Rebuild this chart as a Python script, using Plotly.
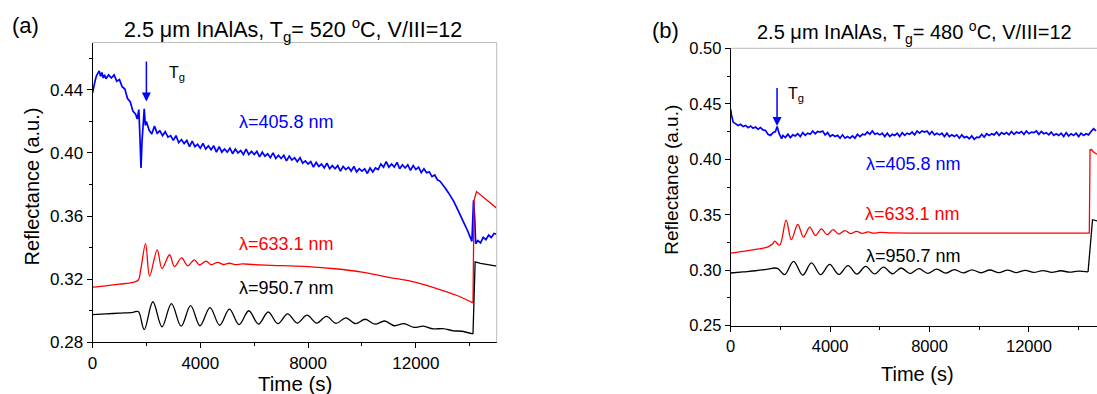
import plotly.graph_objects as go

FONT = "Arial, 'Liberation Sans', sans-serif"
BLUE, RED, BLACK = "#0000ff", "#ff0000", "#000000"

# ---------------- Panel (a) data: Tg = 520 C ----------------
blue_a_t = [0, 50, 100, 150, 200, 250, 300, 350, 400, 450, 500, 600, 700, 800, 900, 1000,
            1100, 1200, 1300, 1400, 1500, 1600, 1660, 1720, 1760, 1800, 1840, 1880, 1920, 1960,
            2000, 2100, 2200, 2300, 2400, 2500, 2600, 2700, 2800, 2900, 3000, 3100, 3200, 3300,
            3400, 3500, 3600, 3700, 3800, 3900, 4000, 4100, 4200, 4300, 4400, 4500, 4600, 4700,
            4800, 4900, 5000, 5100, 5200, 5300, 5400, 5500, 5600, 5700, 5800, 5900, 6000, 6100,
            6200, 6300, 6400, 6500, 6600, 6700, 6800, 6900, 7000, 7100, 7200, 7300, 7400, 7500,
            7600, 7700, 7800, 7900, 8000, 8100, 8200, 8300, 8400, 8500, 8600, 8700, 8800, 8900,
            9000, 9100, 9200, 9300, 9400, 9500, 9600, 9700, 9800, 9900, 10000, 10100, 10200,
            10300, 10400, 10500, 10600, 10700, 10800, 10900, 11000, 11100, 11200, 11300, 11400,
            11500, 11600, 11700, 11800, 11900, 12000, 12100, 12200, 12300, 12400, 12500, 12600,
            12700, 12800, 12900, 13000, 13100, 13200, 13300, 13400, 13500, 13600, 13700, 13800,
            13900, 14000, 14080, 14140, 14180, 14220, 14300, 14400, 14500, 14600, 14700, 14800,
            14900, 15000]
blue_a_v = [0.4380, 0.4430, 0.4460, 0.4490, 0.4505, 0.4520, 0.4485, 0.4510, 0.4475, 0.4495,
            0.4470, 0.4495, 0.4475, 0.4495, 0.4455, 0.4465, 0.4420, 0.4405, 0.4345, 0.4325,
            0.4265, 0.4245, 0.4215, 0.4275, 0.4100, 0.3905, 0.4080, 0.4180, 0.4280, 0.4175,
            0.4200, 0.4145, 0.4120, 0.4170, 0.4125, 0.4140, 0.4110, 0.4135, 0.4100, 0.4110,
            0.4080, 0.4110, 0.4065, 0.4085, 0.4060, 0.4080, 0.4040, 0.4075, 0.4040, 0.4055,
            0.4030, 0.4060, 0.4025, 0.4045, 0.4020, 0.4045, 0.4005, 0.4040, 0.4005, 0.4025,
            0.4005, 0.4030, 0.3995, 0.4025, 0.4000, 0.4015, 0.3990, 0.4025, 0.3990, 0.4010,
            0.3990, 0.4010, 0.3975, 0.4005, 0.3980, 0.3995, 0.3970, 0.4000, 0.3965, 0.3985,
            0.3965, 0.3985, 0.3950, 0.3980, 0.3955, 0.3970, 0.3945, 0.3970, 0.3935, 0.3950,
            0.3930, 0.3945, 0.3910, 0.3940, 0.3915, 0.3930, 0.3905, 0.3935, 0.3900, 0.3920,
            0.3900, 0.3920, 0.3885, 0.3915, 0.3895, 0.3910, 0.3885, 0.3915, 0.3880, 0.3900,
            0.3885, 0.3900, 0.3870, 0.3905, 0.3880, 0.3905, 0.3895, 0.3930, 0.3910, 0.3945,
            0.3910, 0.3930, 0.3910, 0.3940, 0.3900, 0.3925, 0.3905, 0.3925, 0.3890, 0.3920,
            0.3895, 0.3910, 0.3875, 0.3900, 0.3875, 0.3880, 0.3850, 0.3860, 0.3830, 0.3820,
            0.3800, 0.3775, 0.3750, 0.3725, 0.3695, 0.3660, 0.3620, 0.3590, 0.3550, 0.3515,
            0.3475, 0.3440, 0.3700, 0.3600, 0.3425, 0.3445, 0.3430, 0.3465, 0.3450, 0.3480,
            0.3465, 0.3490, 0.3485]

red_a_t = [0, 500, 1000, 1500, 1700, 1790, 1970, 2120, 2400, 2580, 2860, 3040, 3310, 3530,
           3780, 3970, 4220, 4400, 4650, 4850, 5080, 5300, 5550, 6000, 7000, 8000, 9000,
           10000, 11000, 12000, 13000, 13600, 14120]
red_a_v = [0.3150, 0.3158, 0.3168, 0.3180, 0.3195, 0.3260, 0.3425, 0.3220, 0.3385, 0.3268,
           0.3355, 0.3280, 0.3335, 0.3285, 0.3322, 0.3290, 0.3315, 0.3292, 0.3307, 0.3293,
           0.3301, 0.3292, 0.3297, 0.3292, 0.3286, 0.3280, 0.3266, 0.3245, 0.3212, 0.3180,
           0.3128, 0.3092, 0.3050]
red_a_jump_t = [14120, 14160, 14250, 15000]
red_a_jump_v = [0.3050, 0.3700, 0.3755, 0.3650]

black_a_t = [0, 500, 1000, 1500, 1700, 1920, 2240, 2580, 2930, 3290, 3640, 3990, 4360, 4720,
             5080, 5440, 5800, 6160, 6520, 6880, 7240, 7600, 7960, 8320, 8680, 9040, 9400,
             9760, 10120, 10480, 10840, 11200, 11560, 11920, 12280, 12640, 13000, 13400,
             13700, 14120]
black_a_v = [0.2975, 0.2980, 0.2985, 0.2990, 0.2995, 0.2880, 0.3057, 0.2898, 0.3045, 0.2902,
             0.3032, 0.2905, 0.3020, 0.2908, 0.3010, 0.2912, 0.3000, 0.2915, 0.2992, 0.2918,
             0.2980, 0.2922, 0.2972, 0.2922, 0.2964, 0.2920, 0.2955, 0.2918, 0.2946, 0.2915,
             0.2935, 0.2905, 0.2918, 0.2895, 0.2902, 0.2885, 0.2887, 0.2873, 0.2870, 0.2853]
black_a_jump_t = [14120, 14200, 14400, 15000]
black_a_jump_v = [0.2853, 0.3310, 0.3300, 0.3283]

# ---------------- Panel (b) data: Tg = 480 C ----------------
blue_b_t = [0, 30, 100, 200, 300, 400, 500, 600, 700, 800, 900, 1000, 1100, 1200, 1300, 1400,
            1500, 1600, 1700, 1800, 1870, 1950, 2050, 2100, 2200, 2300, 2400, 2500, 2600, 2700,
            2800, 2900, 3000, 3100, 3200, 3300, 3400, 3500, 3600, 3700, 3800, 3900, 4000, 4100,
            4200, 4300, 4400, 4500, 4600, 4700, 4800, 4900, 5000, 5100, 5200, 5300, 5400, 5500,
            5600, 5700, 5800, 5900, 6000, 6100, 6200, 6300, 6400, 6500, 6600, 6700, 6800, 6900,
            7000, 7100, 7200, 7300, 7400, 7500, 7600, 7700, 7800, 7900, 8000, 8100, 8200, 8300,
            8400, 8500, 8600, 8700, 8800, 8900, 9000, 9100, 9200, 9300, 9400, 9500, 9600, 9700,
            9800, 9900, 10000, 10100, 10200, 10300, 10400, 10500, 10600, 10700, 10800, 10900,
            11000, 11100, 11200, 11300, 11400, 11500, 11600, 11700, 11800, 11900, 12000, 12100,
            12200, 12300, 12400, 12500, 12600, 12700, 12800, 12900, 13000, 13100, 13200, 13300,
            13400, 13500, 13600, 13700, 13800, 13900, 14000, 14100, 14200, 14300, 14400, 14500,
            14600, 14700]
blue_b_v = [0.4450, 0.4400, 0.4335, 0.4320, 0.4305, 0.4315, 0.4295, 0.4305, 0.4285, 0.4300,
            0.4280, 0.4290, 0.4270, 0.4285, 0.4265, 0.4260, 0.4225, 0.4215, 0.4240, 0.4250,
            0.4295, 0.4230, 0.4185, 0.4215, 0.4195, 0.4225, 0.4195, 0.4220, 0.4210, 0.4230,
            0.4205, 0.4240, 0.4215, 0.4235, 0.4225, 0.4255, 0.4230, 0.4250, 0.4245, 0.4255,
            0.4220, 0.4240, 0.4205, 0.4220, 0.4205, 0.4215, 0.4190, 0.4220, 0.4190, 0.4205,
            0.4190, 0.4210, 0.4190, 0.4225, 0.4205, 0.4225, 0.4220, 0.4245, 0.4225, 0.4255,
            0.4225, 0.4235, 0.4220, 0.4235, 0.4205, 0.4235, 0.4205, 0.4225, 0.4215, 0.4235,
            0.4205, 0.4240, 0.4215, 0.4235, 0.4225, 0.4245, 0.4220, 0.4255, 0.4235, 0.4255,
            0.4245, 0.4255, 0.4225, 0.4250, 0.4220, 0.4235, 0.4220, 0.4235, 0.4205, 0.4235,
            0.4205, 0.4220, 0.4205, 0.4220, 0.4190, 0.4220, 0.4195, 0.4205, 0.4185, 0.4210,
            0.4180, 0.4200, 0.4195, 0.4225, 0.4200, 0.4230, 0.4215, 0.4230, 0.4220, 0.4245,
            0.4215, 0.4240, 0.4225, 0.4240, 0.4220, 0.4250, 0.4225, 0.4245, 0.4235, 0.4250,
            0.4225, 0.4255, 0.4230, 0.4245, 0.4240, 0.4255, 0.4225, 0.4250, 0.4230, 0.4240,
            0.4220, 0.4245, 0.4215, 0.4230, 0.4215, 0.4235, 0.4205, 0.4240, 0.4210, 0.4230,
            0.4215, 0.4235, 0.4205, 0.4235, 0.4215, 0.4230, 0.4220, 0.4250, 0.4275, 0.4255]

red_b_t = [0, 500, 1000, 1500, 1700, 1770, 1970, 2230, 2440, 2700, 2930, 3180, 3410, 3650,
           3880, 4120, 4350, 4590, 4820, 5060, 5290, 5530, 5760, 6000, 6500, 8000, 10000,
           12000, 14000, 14430]
red_b_v = [0.3155, 0.3170, 0.3188, 0.3210, 0.3240, 0.3262, 0.3226, 0.3452, 0.3275, 0.3412,
           0.3298, 0.3388, 0.3312, 0.3373, 0.3320, 0.3365, 0.3326, 0.3357, 0.3330, 0.3350,
           0.3332, 0.3345, 0.3334, 0.3341, 0.3336, 0.3335, 0.3334, 0.3334, 0.3334, 0.3334]
red_b_jump_t = [14430, 14460, 14520, 14600, 14740]
red_b_jump_v = [0.3334, 0.4085, 0.4088, 0.4065, 0.4045]

black_b_t = [0, 500, 1000, 1500, 1750, 1900, 2170, 2530, 2900, 3250, 3620, 3980, 4350, 4720,
             5080, 5430, 5790, 6150, 6510, 6860, 7220, 7570, 7930, 8290, 8650, 9000, 9360,
             9710, 10070, 10430, 10790, 11140, 11500, 11850, 12200, 12560, 12920, 13280,
             13640, 13990, 14380]
black_b_v = [0.2975, 0.2985, 0.2995, 0.3010, 0.3020, 0.3015, 0.2960, 0.3080, 0.2955, 0.3066,
             0.2960, 0.3052, 0.2962, 0.3042, 0.2965, 0.3035, 0.2967, 0.3027, 0.2968, 0.3020,
             0.2970, 0.3014, 0.2972, 0.3010, 0.2974, 0.3006, 0.2976, 0.3004, 0.2977, 0.3002,
             0.2978, 0.3001, 0.2979, 0.2999, 0.2980, 0.2997, 0.2981, 0.2995, 0.2982, 0.2992,
             0.2985]
black_b_jump_t = [14380, 14560, 14740]
black_b_jump_v = [0.2985, 0.3455, 0.3445]

# labels
title_a = "2.5 μm InAlAs, T<sub>g</sub>= 520 <sup>o</sup>C, V/III=12"
title_b = "2.5 μm InAlAs, T<sub>g</sub>= 480 <sup>o</sup>C, V/III=12"
wl_labels = ["λ=405.8 nm", "λ=633.1 nm", "λ=950.7 nm"]
wl_colors = [BLUE, RED, BLACK]
label_a_xy = [(7200, 0.4198), (7200, 0.3423), (7200, 0.3144)]
label_b_xy = [(7340, 0.3954), (7300, 0.3503), (7340, 0.3132)]
tg_a = (2000, 0.4326, 0.4589)   # time, arrow tip, arrow tail
tg_b = (1865, 0.4300, 0.4656)

W, H = 1097, 394
fig = go.Figure()


def add(xs, ys, color, xa, ya, shape="linear", width=1.3):
    fig.add_trace(go.Scatter(x=xs, y=ys, mode="lines", xaxis=xa, yaxis=ya,
                             line=dict(color=color, width=width, shape=shape),
                             showlegend=False, hoverinfo="skip"))


add(blue_a_t, blue_a_v, BLUE, "x", "y", width=1.7)
add(red_a_t, red_a_v, RED, "x", "y", shape="spline")
add(red_a_jump_t, red_a_jump_v, RED, "x", "y")
add(black_a_t, black_a_v, BLACK, "x", "y", shape="spline")
add(black_a_jump_t, black_a_jump_v, BLACK, "x", "y")

add(blue_b_t, blue_b_v, BLUE, "x2", "y2", width=1.7)
add(red_b_t, red_b_v, RED, "x2", "y2", shape="spline")
add(red_b_jump_t, red_b_jump_v, RED, "x2", "y2")
add(black_b_t, black_b_v, BLACK, "x2", "y2", shape="spline")
add(black_b_jump_t, black_b_jump_v, BLACK, "x2", "y2")


def xaxis(domain, rng, size, anchor):
    return dict(domain=domain, range=rng, showgrid=False, zeroline=False, showline=True,
                linecolor="black", linewidth=1, ticks="outside", ticklen=5, tickwidth=1,
                tickcolor="black", tick0=0, dtick=4000, tickformat="d", automargin=False,
                tickfont=dict(family=FONT, size=size, color="black"),
                minor=dict(ticks="outside", ticklen=3, dtick=2000, tick0=0, tickcolor="black"),
                anchor=anchor, fixedrange=True)


def yaxis(domain, rng, dt, size, anchor):
    return dict(domain=domain, range=rng, showgrid=False, zeroline=False, showline=True,
                linecolor="black", linewidth=1, ticks="outside", ticklen=5, tickwidth=1,
                tickcolor="black", tick0=rng[0], dtick=dt, tickformat=".2f", automargin=False,
                tickfont=dict(family=FONT, size=size, color="black"),
                minor=dict(ticks="outside", ticklen=3, dtick=dt / 2, tick0=rng[0],
                           tickcolor="black"),
                anchor=anchor, fixedrange=True)


fig.update_layout(
    template="none",
    width=W, height=H, margin=dict(l=0, r=0, t=0, b=0, pad=0), autosize=False,
    paper_bgcolor="white", plot_bgcolor="white",
    xaxis=xaxis([92.5 / W, 496.7 / W], [0, 15000], 17, "y"),
    yaxis=yaxis([1 - 342.3 / H, 1 - 42.5 / H], [0.28, 0.47], 0.04, 17, "x"),
    xaxis2=xaxis([730.7 / W, 1.0], [0, 14740], 16.5, "y2"),
    yaxis2=yaxis([1 - 325.7 / H, 1 - 48.3 / H], [0.25, 0.50], 0.05, 16.5, "x2"),
    font=dict(family=FONT, color="black"),
    showlegend=False,
)

# light grey frame (top / right)
GREY = "#bdbdbd"
fig.add_shape(type="line", xref="x domain", yref="y domain", x0=0, x1=1, y0=1, y1=1,
              line=dict(color=GREY, width=1))
fig.add_shape(type="line", xref="x domain", yref="y domain", x0=1, x1=1, y0=0, y1=1,
              line=dict(color=GREY, width=1))
fig.add_shape(type="line", xref="x2 domain", yref="y2 domain", x0=0, x1=1, y0=1, y1=1,
              line=dict(color=GREY, width=1))

ann = []


def paper_text(text, px, py, size, angle=0):
    ann.append(dict(text=text, x=px / W, y=1 - py / H, xref="paper", yref="paper",
                    xanchor="center", yanchor="middle", showarrow=False, textangle=angle,
                    font=dict(family=FONT, size=size, color="black")))


paper_text("(a)", 25.5, 25.5, 22)
paper_text("(b)", 665, 30, 22)
paper_text(title_a, 292.6, 29, 21.5)
paper_text(title_b, 914, 32.5, 20)
paper_text("Reflectance (a.u.)", 31.7, 186.7, 20, -90)
paper_text("Reflectance (a.u.)", 670.7, 180, 19, -90)
paper_text("Time (s)", 295, 383, 20.5)
paper_text("Time (s)", 917.8, 374, 20)

for (lx, ly), txt, col in zip(label_a_xy, wl_labels, wl_colors):
    ann.append(dict(text=txt, x=lx, y=ly, xref="x", yref="y", showarrow=False,
                    xanchor="center", yanchor="middle",
                    font=dict(family=FONT, size=18, color=col)))
for (lx, ly), txt, col in zip(label_b_xy, wl_labels, wl_colors):
    ann.append(dict(text=txt, x=lx, y=ly, xref="x2", yref="y2", showarrow=False,
                    xanchor="center", yanchor="middle",
                    font=dict(family=FONT, size=18, color=col)))

# Tg arrows
for (t, tip, tail), xr, yr in [(tg_a, "x", "y"), (tg_b, "x2", "y2")]:
    ann.append(dict(text="", x=t, y=tip, ax=t, ay=tail, xref=xr, yref=yr, axref=xr, ayref=yr,
                    showarrow=True, arrowhead=2, arrowsize=1.2, arrowwidth=1.5,
                    arrowcolor=BLUE))
ann.append(dict(text="T<sub>g</sub>", x=2753, y=0.4505, xref="x", yref="y", showarrow=False,
                xanchor="left", yanchor="middle", font=dict(family=FONT, size=16, color="black")))
ann.append(dict(text="T<sub>g</sub>", x=2241, y=0.4585, xref="x2", yref="y2", showarrow=False,
                xanchor="left", yanchor="middle", font=dict(family=FONT, size=16, color="black")))

fig.update_layout(annotations=ann)
fig.write_html("out.html", config={"displayModeBar": False},
               post_script="document.body.style.margin='0';")
